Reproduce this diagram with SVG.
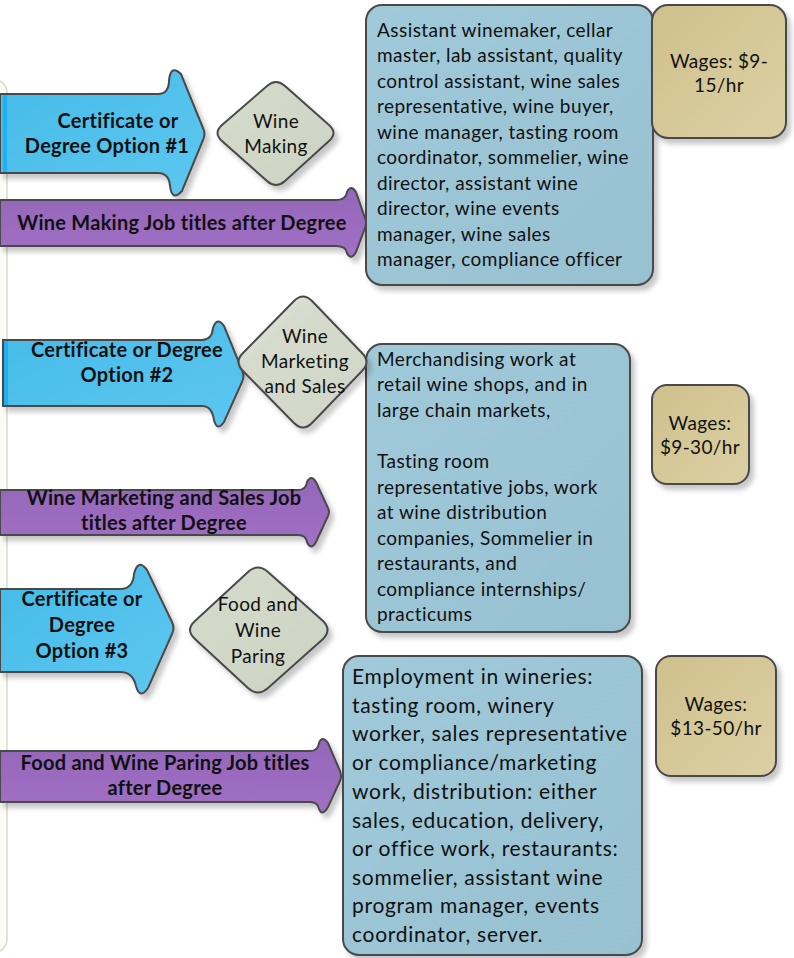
<svg xmlns="http://www.w3.org/2000/svg" width="794" height="958" viewBox="0 0 794 958">
<defs>
  <filter id="sh" x="-10%" y="-10%" width="130%" height="130%">
    <feDropShadow dx="4" dy="5" stdDeviation="2.5" flood-color="#000" flood-opacity="0.22"/>
  </filter>
  <linearGradient id="gBlue" x1="0" y1="0" x2="1" y2="1">
    <stop offset="0" stop-color="#45bbe8"/>
    <stop offset="1" stop-color="#5dc7ef"/>
  </linearGradient>
  <linearGradient id="gPurple" x1="0" y1="0" x2="0" y2="1">
    <stop offset="0" stop-color="#9466b8"/>
    <stop offset="1" stop-color="#a070c4"/>
  </linearGradient>
  <linearGradient id="gDia" x1="0" y1="0" x2="1" y2="1">
    <stop offset="0" stop-color="#d6dccb"/>
    <stop offset="1" stop-color="#cdd3c2"/>
  </linearGradient>
  <linearGradient id="gBox" x1="0" y1="0" x2="1" y2="1">
    <stop offset="0" stop-color="#a0c9d9"/>
    <stop offset="1" stop-color="#97c0d0"/>
  </linearGradient>
  <linearGradient id="gWage" x1="0" y1="0" x2="1" y2="1">
    <stop offset="0" stop-color="#cfc08c"/>
    <stop offset="1" stop-color="#dcd0a4"/>
  </linearGradient>
</defs>
<style>
  .arrowB { fill: url(#gBlue); stroke: #4a4a4a; stroke-width: 2; filter: url(#sh); }
  .arrowP { fill: url(#gPurple); stroke: #4a4a4a; stroke-width: 2; filter: url(#sh); }
  .dia { fill: url(#gDia); stroke: #4a4a4a; stroke-width: 2; filter: url(#sh); }
  .box { fill: url(#gBox); stroke: #4a4a4a; stroke-width: 2; filter: url(#sh); }
  .wage { fill: url(#gWage); stroke: #4a4a4a; stroke-width: 2; filter: url(#sh); }
  .strip { fill: #1fb2f2; }
  .bt { font-family: Lato, "Open Sans", sans-serif; font-weight: bold; font-size: 20px; letter-spacing: 0.25px; fill: #111; text-anchor: middle; }
  .rt { font-family: Lato, "Open Sans", sans-serif; font-size: 19px; letter-spacing: 0.45px; fill: #111; }
  .ct { font-family: Lato, "Open Sans", sans-serif; font-size: 19px; letter-spacing: 0.35px; fill: #111; text-anchor: middle; }
  .lt { font-family: Lato, "Open Sans", sans-serif; font-size: 21px; letter-spacing: 0.7px; fill: #111; }
</style>
<rect width="794" height="958" fill="#ffffff"/>
<rect id="frame" x="-130" y="79" width="137" height="874" rx="14" fill="#fbfcf8" stroke="#d6dcc9" stroke-width="1.5"/>

<g id="connectors">
  <g id="arrow1">
    <path class="arrowB" d="M0,94 L158,94 Q169,94 169,80 Q171,64 181,74 L203,128 Q206,134 203,140 L182,191 Q172,202 170,186 Q169,173 158,173 L0,173 Z"/>
    <rect class="strip" x="3" y="95" width="4" height="77"/>
    <text class="bt" x="118" y="128">Certificate or</text>
    <text class="bt" x="107" y="153">Degree Option #1</text>
  </g>
  <g id="purple1">
    <path class="arrowP" d="M0,200 L336,200 Q346,200 347,192 Q351,184 356,192 L365,218 Q367,223 365,228 L356,252 Q351,261 347,253 Q346,246 336,246 L0,246 Z"/>
    <text class="bt" x="182" y="230">Wine Making Job titles after Degree</text>
  </g>
  <g id="arrow2">
    <path class="arrowB" d="M3,340 L202,340 Q212,340 213,328 Q217,316 224,326 L242,370 Q245,376 242,382 L224,422 Q217,432 214,420 Q212,406 202,406 L3,406 Z"/>
    <rect class="strip" x="4" y="341" width="4" height="64"/>
    <text class="bt" x="127" y="357">Certificate or Degree</text>
    <text class="bt" x="127" y="382">Option #2</text>
  </g>
  <g id="purple2">
    <path class="arrowP" d="M0,490 L298,490 Q306,490 307,482 Q311,474 316,482 L328,508 Q330,512 328,516 L316,542 Q311,551 307,542 Q306,535 298,535 L0,535 Z"/>
    <text class="bt" x="164" y="505">Wine Marketing and Sales Job</text>
    <text class="bt" x="164" y="530">titles after Degree</text>
  </g>
  <g id="arrow3">
    <path class="arrowB" d="M0,589 L120,589 Q133,589 134,574 Q138,558 147,570 L172,622 Q175,628 172,634 L148,688 Q140,700 136,686 Q133,672 120,672 L0,672 Z"/>
    <text class="bt" x="82" y="606">Certificate or</text>
    <text class="bt" x="82" y="632">Degree</text>
    <text class="bt" x="82" y="658">Option #3</text>
  </g>
  <g id="purple3">
    <path class="arrowP" d="M0,751 L310,751 Q318,751 319,743 Q322,735 328,743 L340,771 Q342,776 340,781 L328,807 Q322,817 319,809 Q318,802 310,802 L0,802 Z"/>
    <text class="bt" x="165" y="770">Food and Wine Paring Job titles</text>
    <text class="bt" x="165" y="795">after Degree</text>
  </g>
</g>

<g id="diamond1">
  <path class="dia" d="M285,86 L329,125 Q338,133 329,141 L285,181 Q276,189 267,181 L222,141 Q213,133 222,125 L267,86 Q276,78 285,86 Z"/>
  <text class="ct" x="276" y="128">Wine</text>
  <text class="ct" x="276" y="153">Making</text>
</g>

<g id="box1">
  <rect class="box" x="366" y="5" width="287" height="280" rx="16"/>
  <text class="rt" x="377" y="37">Assistant winemaker, cellar</text>
  <text class="rt" x="377" y="62">master, lab assistant, quality</text>
  <text class="rt" x="377" y="88">control assistant, wine sales</text>
  <text class="rt" x="377" y="113">representative, wine buyer,</text>
  <text class="rt" x="377" y="139">wine manager, tasting room</text>
  <text class="rt" x="377" y="164">coordinator, sommelier, wine</text>
  <text class="rt" x="377" y="190">director, assistant wine</text>
  <text class="rt" x="377" y="215">director, wine events</text>
  <text class="rt" x="377" y="241">manager, wine sales</text>
  <text class="rt" x="377" y="266">manager, compliance officer</text>
</g>
<g id="wage1">
  <rect class="wage" x="652" y="5" width="134" height="133" rx="16"/>
  <text class="ct" x="719" y="68">Wages: $9-</text>
  <text class="ct" x="719" y="92">15/hr</text>
</g>

<g id="box2">
  <rect class="box" x="366" y="344" width="264" height="288" rx="16"/>
  <text class="rt" x="377" y="366">Merchandising work at</text>
  <text class="rt" x="377" y="391">retail wine shops, and in</text>
  <text class="rt" x="377" y="417">large chain markets,</text>
  <text class="rt" x="377" y="468">Tasting room</text>
  <text class="rt" x="377" y="494">representative jobs, work</text>
  <text class="rt" x="377" y="519">at wine distribution</text>
  <text class="rt" x="377" y="545">companies, Sommelier in</text>
  <text class="rt" x="377" y="570">restaurants, and</text>
  <text class="rt" x="377" y="596">compliance internships/</text>
  <text class="rt" x="377" y="621">practicums</text>
</g>
<g id="diamond2">
  <path class="dia" d="M312,301 L362,353 Q371,362 362,371 L312,423 Q303,432 294,423 L243,371 Q234,362 243,353 L294,301 Q303,292 312,301 Z" style="fill-opacity:0.85"/>
  <text class="ct" x="305" y="343">Wine</text>
  <text class="ct" x="305" y="368">Marketing</text>
  <text class="ct" x="305" y="393">and Sales</text>
</g>
<g id="wage2">
  <rect class="wage" x="652" y="385" width="97" height="99" rx="15"/>
  <text class="ct" x="700" y="430">Wages:</text>
  <text class="ct" x="700" y="454">$9-30/hr</text>
</g>

<g id="diamond3">
  <path class="dia" d="M268,572 L323,621 Q332,630 323,639 L268,688 Q258,697 248,688 L195,639 Q185,630 195,621 L248,572 Q258,563 268,572 Z"/>
  <text class="ct" x="258" y="611">Food and</text>
  <text class="ct" x="258" y="637">Wine</text>
  <text class="ct" x="258" y="663">Paring</text>
</g>

<g id="box3">
  <rect class="box" x="343" y="656" width="299" height="299" rx="16"/>
  <text class="lt" x="352" y="684">Employment in wineries:</text>
  <text class="lt" x="352" y="713">tasting room, winery</text>
  <text class="lt" x="352" y="741">worker, sales representative</text>
  <text class="lt" x="352" y="770">or compliance/marketing</text>
  <text class="lt" x="352" y="799">work, distribution: either</text>
  <text class="lt" x="352" y="828">sales, education, delivery,</text>
  <text class="lt" x="352" y="856">or office work, restaurants:</text>
  <text class="lt" x="352" y="885">sommelier, assistant wine</text>
  <text class="lt" x="352" y="913">program manager, events</text>
  <text class="lt" x="352" y="942">coordinator, server.</text>
</g>
<g id="wage3">
  <rect class="wage" x="656" y="656" width="120" height="120" rx="15"/>
  <text class="ct" x="716" y="711">Wages:</text>
  <text class="ct" x="716" y="735">$13-50/hr</text>
</g>
</svg>
